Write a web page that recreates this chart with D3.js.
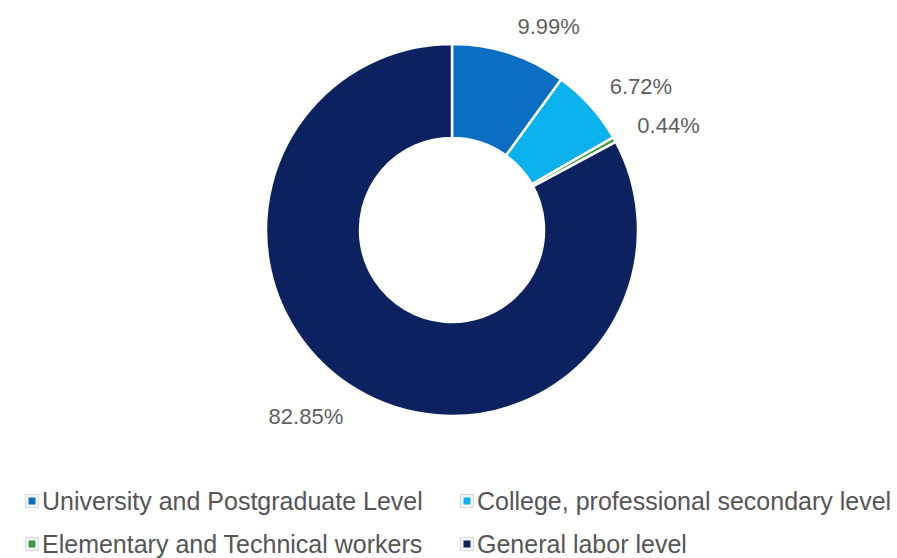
<!DOCTYPE html>
<html>
<head>
<meta charset="utf-8">
<script src="https://cdn.jsdelivr.net/npm/d3@7/dist/d3.min.js"></script>
<style>
  html, body { margin: 0; padding: 0; background: #ffffff; }
  svg { display: block; }
  text { font-family: "Liberation Sans", Arial, sans-serif; }
</style>
</head>
<body>
<svg id="chart" width="897" height="558"></svg>
<script>
// Workforce by qualification level (percent of total)
const categories = [
  "University and Postgraduate Level",
  "College, professional secondary level",
  "Elementary and Technical workers",
  "General labor level"
];
const values = [9.99, 6.72, 0.44, 82.85];
const colors = ["#0a6fc2", "#0bb2ee", "#3f9a3f", "#0b2160"];

const svg = d3.select("#chart");
const cx = 452, cy = 230;
const outerR = 186, innerR = 92, labelR = 212;

const pie = d3.pie().value(d => d).sort(null);
const arcs = pie(values);
const arc = d3.arc().innerRadius(innerR).outerRadius(outerR);

const g = svg.append("g").attr("transform", `translate(${cx},${cy})`);

g.selectAll("path.slice")
  .data(arcs)
  .join("path")
  .attr("class", "slice")
  .attr("d", arc)
  .attr("fill", (d, i) => colors[i])
  .attr("stroke", "#ffffff")
  .attr("stroke-width", 2.5)
  .attr("stroke-linejoin", "round");

// Percentage labels placed just outside each slice
g.selectAll("text.pct")
  .data(arcs)
  .join("text")
  .attr("class", "pct")
  .each(function(d) {
    const a = (d.startAngle + d.endAngle) / 2;
    const x = labelR * Math.sin(a);
    const y = -labelR * Math.cos(a);
    d3.select(this)
      .attr("x", x)
      .attr("y", y + (y > 0 ? 5 : -2))
      .attr("text-anchor", x >= 0 ? "start" : "end");
  })
  .attr("dominant-baseline", "central")
  .attr("font-size", 22)
  .attr("fill", "#5f5f5f")
  .text(d => d.data.toFixed(2) + "%");

// Legend, two columns by two rows
const legendX = [25, 460];
const legendY = [501, 544];
const legend = svg.append("g");
categories.forEach((name, i) => {
  const col = i % 2, row = Math.floor(i / 2);
  const item = legend.append("g")
    .attr("transform", `translate(${legendX[col]},${legendY[row]})`);
  item.append("rect")
    .attr("x", 0.5).attr("y", -6.5)
    .attr("width", 13).attr("height", 13)
    .attr("fill", "#f4f6f8")
    .attr("stroke", "#d4d8dc")
    .attr("stroke-width", 1);
  item.append("rect")
    .attr("x", 3.5).attr("y", -3.5)
    .attr("width", 7).attr("height", 7)
    .attr("fill", colors[i]);
  item.append("text")
    .attr("x", 17)
    .attr("y", 0)
    .attr("dominant-baseline", "central")
    .attr("font-size", 25)
    .attr("fill", "#555555")
    .text(name);
});
</script>
</body>
</html>
